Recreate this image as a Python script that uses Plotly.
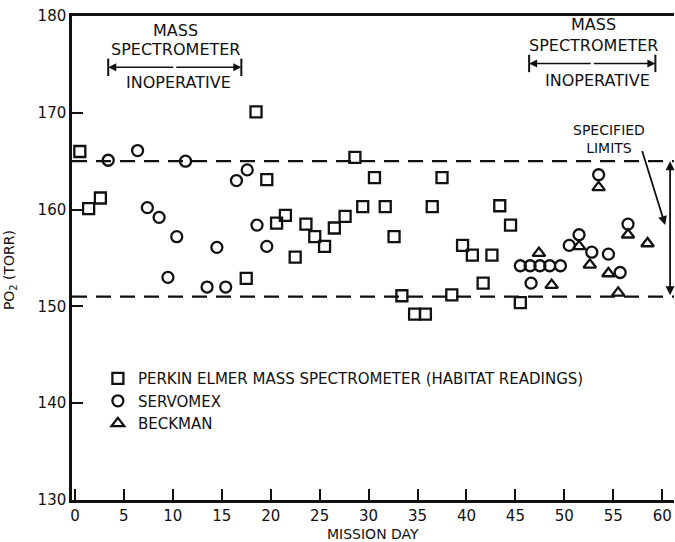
import plotly.graph_objects as go

# Perkin Elmer mass spectrometer (habitat readings)
pe_day = [0.5, 1.4, 2.6, 17.5, 18.5, 19.6, 20.6, 21.5, 22.5, 23.6, 24.5, 25.5, 26.5, 27.6,
          28.6, 29.4, 30.6, 31.7, 32.6, 33.4, 34.7, 35.8, 36.5, 37.5, 38.5, 39.6, 40.6,
          41.7, 42.6, 43.4, 44.5, 45.5]
pe_po2 = [166.0, 160.1, 161.2, 152.9, 170.1, 163.1, 158.6, 159.4, 155.1, 158.5, 157.2, 156.2,
          158.1, 159.3, 165.4, 160.3, 163.3, 160.3, 157.2, 151.1, 149.2, 149.2, 160.3, 163.3,
          151.2, 156.3, 155.3, 152.4, 155.3, 160.4, 158.4, 150.4]

# Servomex
sv_day = [3.4, 6.4, 7.4, 8.6, 9.5, 10.4, 11.3, 13.5, 14.5, 15.4, 16.5, 17.6, 18.6, 19.6,
          45.5, 46.5, 46.6, 47.5, 48.5, 49.6, 50.5, 51.5, 52.8, 53.5, 54.5, 55.7, 56.5]
sv_po2 = [165.1, 166.1, 160.2, 159.2, 153.0, 157.2, 165.0, 152.0, 156.1, 152.0, 163.0, 164.1,
          158.4, 156.2, 154.2, 154.2, 152.4, 154.2, 154.2, 154.2, 156.3, 157.4, 155.6, 163.6,
          155.4, 153.5, 158.5]

# Beckman
bk_day = [47.4, 48.7, 51.5, 52.6, 53.5, 54.5, 55.5, 56.5, 58.5]
bk_po2 = [155.5, 152.2, 156.2, 154.3, 162.3, 153.4, 151.4, 157.4, 156.5]

limits = [151, 165]
x_ticks = list(range(0, 61, 5))
y_ticks = list(range(130, 181, 10))

INK = "#111111"
FONT = "DejaVu Sans"

fig = go.Figure()
mk = dict(color=INK, size=11, line=dict(width=2.3, color=INK))
fig.add_trace(go.Scatter(x=pe_day, y=pe_po2, mode="markers",
                         name="PERKIN ELMER MASS SPECTROMETER (HABITAT READINGS)",
                         marker=dict(symbol="square-open", **mk)))
fig.add_trace(go.Scatter(x=sv_day, y=sv_po2, mode="markers", name="SERVOMEX",
                         marker=dict(symbol="circle-open", **mk)))
fig.add_trace(go.Scatter(x=bk_day, y=bk_po2, mode="markers", name="BECKMAN",
                         marker=dict(symbol="triangle-up-open", **mk)))

for lim in limits:
    fig.add_hline(y=lim, line=dict(color=INK, width=2.2, dash="15px,9px"), layer="below")

ann = []
def txt(x, y, t, size=16):
    ann.append(dict(x=x, y=y, xref="x", yref="y", text=t, showarrow=False,
                    font=dict(family=FONT, size=size, color=INK)))

def span(x0, x1, y):
    xm = (x0 + x1) / 2
    for xe in (x0, x1):
        ann.append(dict(x=xe, y=y, ax=xm, ay=y, xref="x", yref="y", axref="x", ayref="y",
                        text="", showarrow=True, arrowhead=2, arrowsize=1, arrowwidth=1.6,
                        arrowcolor=INK))
        fig.add_shape(type="line", x0=xe, x1=xe, y0=y - 0.9, y1=y + 0.9,
                      line=dict(color=INK, width=2))

txt(10.3, 178.55, "MASS")
txt(10.3, 176.5, "SPECTROMETER")
span(3.4, 17.0, 174.7)
txt(10.6, 173.1, "INOPERATIVE")

txt(53.0, 179.1, "MASS")
txt(53.0, 177.0, "SPECTROMETER")
span(46.4, 59.3, 175.1)
txt(53.4, 173.3, "INOPERATIVE")

txt(54.6, 167.25, "SPECIFIED<br>LIMITS", 14)
ann.append(dict(x=60.3, y=158.4, ax=57.9, ay=166.2, xref="x", yref="y", axref="x", ayref="y",
                text="", showarrow=True, arrowhead=2, arrowsize=1, arrowwidth=1.8,
                arrowcolor=INK))
ann.append(dict(x=60.8, y=limits[1], ax=60.8, ay=limits[0], xref="x", yref="y",
                axref="x", ayref="y", text="", showarrow=True, arrowhead=2,
                arrowside="end+start", arrowsize=1, arrowwidth=1.8, arrowcolor=INK))

# axis titles
ann.append(dict(x=0.5, y=0, xref="paper", yref="paper", yanchor="top", yshift=-24,
                text="MISSION DAY", showarrow=False,
                font=dict(size=14, family=FONT, color=INK)))
ann.append(dict(x=0, y=0.475, xref="paper", yref="paper", xanchor="center", xshift=-62,
                text="PO<sub>2</sub> (TORR)", textangle=-90, showarrow=False,
                font=dict(size=14, family=FONT, color=INK)))

fig.update_layout(
    width=675, height=542,
    margin=dict(l=72, r=1, t=16, b=42, autoexpand=False),
    paper_bgcolor="white", plot_bgcolor="white",
    font=dict(family=FONT, color=INK, size=15),
    showlegend=True, hovermode=False,
    legend=dict(x=0.043, y=0.285, xanchor="left", yanchor="top",
                bgcolor="rgba(0,0,0,0)", font=dict(size=15, family=FONT, color=INK),
                tracegroupgap=0, itemwidth=30),
    annotations=ann,
)
fig.update_xaxes(range=[-0.3, 61.2], tickvals=x_ticks, ticks="inside", ticklen=11,
                 tickwidth=2, tickcolor=INK, showline=True, linecolor=INK, linewidth=2.5,
                 mirror=True, showgrid=False, zeroline=False, automargin=False,
                 ticklabeloverflow="allow",
                 tickfont=dict(size=15, family=FONT, color=INK))
fig.update_yaxes(range=[130, 180], tickvals=y_ticks, ticks="inside", ticklen=11,
                 tickwidth=2, tickcolor=INK, showline=True, linecolor=INK, linewidth=2.5,
                 showgrid=False, zeroline=False, automargin=False,
                 ticklabeloverflow="allow",
                 tickfont=dict(size=15, family=FONT, color=INK))

fig.write_html("out.html", config={"displayModeBar": False},
               post_script="document.body.style.margin='0';document.body.style.overflow='hidden';")
